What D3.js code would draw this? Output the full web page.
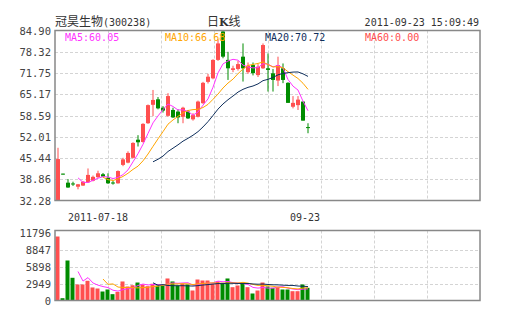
<!DOCTYPE html>
<html><head><meta charset="utf-8">
<script src="https://cdn.jsdelivr.net/npm/d3@7"></script>
<style>body{margin:0;background:#fff}svg{display:block}</style>
</head><body>
<script>
// ---- data ----
const dates = ["2011-07-18","09-23"];
const dateIdx = [8,50];
const opens  = [32.4,40.6,37.8,37.55,36.55,36.9,37.9,38.4,39.5,40.4,39.3,37.85,37.6,43.3,44.0,45.5,51.1,50.4,56.2,61.9,63.6,61.0,58.5,60.3,59.8,58.2,59.8,57.4,58.2,62.4,69.0,70.1,75.8,84.6,75.8,72.7,73.0,76.8,72.0,74.2,71.1,73.2,73.2,71.65,69.4,73.2,68.7,61.3,61.8,62.9,55.0];
const highs  = [48.6,40.6,38.9,38.1,37.4,38.3,42.2,40.0,41.5,40.8,40.7,38.3,41.6,45.5,47.5,50.3,52.5,56.2,62.0,66.5,64.3,61.5,65.5,61.0,60.5,61.3,60.3,59.3,63.2,69.0,71.5,76.0,82.2,84.9,78.3,74.0,75.5,80.9,75.0,75.0,74.5,80.9,77.8,73.0,76.8,74.7,68.9,64.6,64.6,62.9,56.2];
const lows   = [32.28,40.4,36.2,36.8,35.75,36.8,37.7,38.2,39.3,39.5,37.4,37.2,37.5,42.9,43.8,45.3,49.0,50.2,56.0,58.4,60.5,59.5,58.2,57.8,56.2,56.2,57.5,57.0,58.0,62.2,68.5,69.8,75.5,76.3,69.6,72.0,72.5,69.1,71.5,71.0,70.5,73.0,66.0,66.0,67.7,68.6,62.5,60.8,60.3,57.0,53.1];
const closes = [45.1,40.4,36.3,37.4,37.3,38.1,40.2,39.6,40.7,39.7,37.6,37.75,41.4,45.0,47.0,50.1,50.3,56.0,61.8,63.4,60.8,60.1,64.6,58.0,58.0,61.0,57.7,58.7,62.9,68.7,70.6,75.8,80.9,76.8,73.2,73.2,74.5,73.2,74.0,71.7,73.7,80.4,72.7,69.6,74.2,69.6,62.5,62.5,63.5,57.0,54.8];
const volumes = [11100,400,6940,3940,2780,2780,3420,2260,2080,1560,1910,1100,1500,3300,2430,2650,3120,2780,2480,2900,2600,2600,3820,3300,2600,2900,2780,1735,3640,3470,3470,2900,3300,3070,3820,2310,2600,2900,2310,1215,1735,3120,2430,2200,2310,1910,1910,1615,1615,2780,2200];
const priceTicks = [84.90,78.32,71.75,65.17,58.59,52.01,45.44,38.86,32.28];
const volTicks = [0,2949,5898,8847,11796];
const maNames = ["MA5:60.05","MA10:66.68","MA20:70.72","MA60:0.00"];
const maPeriods = [5,10,20];
const maColors = ["#ff33ff","#ffa500","#0f2f5c","#ff4d4d"];
const title = "冠昊生物", code = "(300238)", timeStamp = "2011-09-23 15:09:49";

const UP="#ff4f4f", DOWN="#008c00";
const svg = d3.select("body").append("svg").attr("width",505).attr("height",330);
const L=55,R=480,T=30.5,B=200.5, VT=230.5, VB=300.5;
const x = d3.scaleLinear().domain([0,85]).range([L,R]);
const y = d3.scaleLinear().domain([32.28,84.90]).range([B,T]);
const yv = d3.scaleLinear().domain([0,11796]).range([VB,232.5]);
const mono = "'DejaVu Sans Mono', monospace";
const n = closes.length, idx = d3.range(n);

function grid(top,bottom,hvals,ys){
  const g = svg.append("g").attr("stroke","#d4d4d4").attr("stroke-dasharray","3,2").attr("stroke-width",1);
  d3.range(1,8).forEach(k=>{const xx=Math.round(L+k*(R-L)/8)+0.5;
    g.append("line").attr("x1",xx).attr("x2",xx).attr("y1",top).attr("y2",bottom);});
  hvals.forEach(v=>{const yy=Math.round(ys(v))+0.5;
    g.append("line").attr("x1",L).attr("x2",R).attr("y1",yy).attr("y2",yy);});
}
grid(T,B,priceTicks.slice(1,-1),y);
grid(VT,VB,volTicks.slice(1,-1),yv);

svg.append("g").selectAll("text").data(priceTicks).join("text")
  .attr("x",51).attr("y",d=>y(d)+4).attr("text-anchor","end")
  .attr("font-family",mono).attr("font-size",10.5).attr("fill","#444").text(d=>d.toFixed(2));
svg.append("g").selectAll("text").data(volTicks).join("text")
  .attr("x",51).attr("y",d=>yv(d)+4).attr("text-anchor","end")
  .attr("font-family",mono).attr("font-size",10.5).attr("fill","#444").text(d=>d);

const cg = svg.append("g");
idx.forEach(i=>{
  const up = closes[i]>=opens[i], col = up?UP:DOWN;
  const bx = x(i)+1;
  cg.append("rect").attr("x",bx+1.5).attr("width",1)
    .attr("y",y(highs[i])).attr("height",Math.max(1,y(lows[i])-y(highs[i]))).attr("fill",col);
  const t = y(Math.max(opens[i],closes[i])), b = y(Math.min(opens[i],closes[i]));
  cg.append("rect").attr("x",bx).attr("width",4).attr("y",t).attr("height",Math.max(1,b-t)).attr("fill",col);
});
svg.append("g").selectAll("rect").data(idx).join("rect")
  .attr("x",i=>x(i)+0.5).attr("width",4)
  .attr("y",i=>yv(volumes[i])).attr("height",i=>VB-yv(volumes[i]))
  .attr("fill",i=>closes[i]>=opens[i]?UP:DOWN);

function ma(arr,p){return idx.map(i=>i<p-1?null:d3.mean(arr.slice(i-p+1,i+1)));}
maPeriods.forEach((p,k)=>{
  const pm = ma(closes,p), vm = ma(volumes,p);
  const line = (ys,vals)=>d3.line().defined(i=>vals[i]!=null).x(i=>x(i)+3).y(i=>ys(vals[i]));
  svg.append("path").attr("d",line(y,pm)(idx)).attr("fill","none").attr("stroke",maColors[k]).attr("stroke-width",1);
  svg.append("path").attr("d",line(yv,vm)(idx)).attr("fill","none").attr("stroke",maColors[k]).attr("stroke-width",1);
});

svg.append("rect").attr("x",L).attr("y",T).attr("width",R-L).attr("height",B-T).attr("fill","none").attr("stroke","#888").attr("stroke-width",1.5);
svg.append("rect").attr("x",L).attr("y",VT).attr("width",R-L).attr("height",VB-VT).attr("fill","none").attr("stroke","#888").attr("stroke-width",1.5);

maNames.forEach((s,k)=>svg.append("text").attr("x",65+k*100).attr("y",41)
  .attr("font-family",mono).attr("font-size",10).attr("fill",maColors[k]).text(s));

const ht = svg.append("text").attr("x",55).attr("y",26).attr("fill","#333");
ht.append("tspan").attr("font-family","'Noto Sans CJK SC'").attr("font-size",12).text(title);
ht.append("tspan").attr("font-family",mono).attr("font-size",10).text(code);
const kt = svg.append("text").attr("x",207).attr("y",26).attr("fill","#333").attr("font-family","'Noto Sans CJK SC'").attr("font-size",12);
kt.append("tspan").text("日");
kt.append("tspan").attr("font-weight","bold").attr("font-family","'DejaVu Serif'").attr("font-size",11).text("K");
kt.append("tspan").text("线");
svg.append("text").attr("x",479).attr("y",26).attr("text-anchor","end").attr("fill","#333")
  .attr("font-family",mono).attr("font-size",10).text(timeStamp);

dates.forEach((s,k)=>svg.append("text").attr("x",x(dateIdx[k])+3-(k===1?3:0)).attr("y",221)
  .attr("text-anchor","middle").attr("fill","#333").attr("font-family",mono).attr("font-size",10).text(s));
</script>
</body></html>
